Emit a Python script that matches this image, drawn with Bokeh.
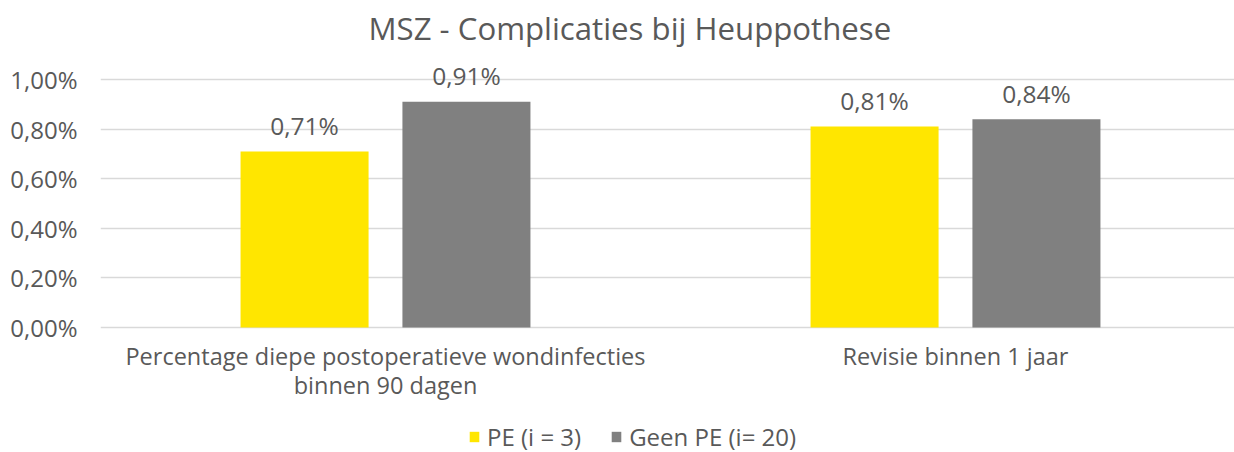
from bokeh.plotting import figure
from bokeh.models import Range1d, FixedTicker, ColumnDataSource, Legend, LegendItem
from bokeh.transform import dodge
from bokeh.core.properties import value
from bokeh.embed import file_html
from bokeh.resources import INLINE

# ---- data ----
categories = ["Percentage diepe postoperatieve wondinfecties\nbinnen 90 dagen",
              "Revisie binnen 1 jaar"]
pe_values = [0.71, 0.81]
geen_pe_values = [0.91, 0.84]
series_names = ["PE (i = 3)", "Geen PE (i= 20)"]
y_ticks = [0.0, 0.2, 0.4, 0.6, 0.8, 1.0]
y_tick_labels = ["0,00%", "0,20%", "0,40%", "0,60%", "0,80%", "1,00%"]
title_text = "MSZ - Complicaties  bij Heuppothese"


def pct(v):
    return f"{v:.2f}%".replace(".", ",")


x_pos = list(range(len(categories)))
source = ColumnDataSource(dict(
    x=x_pos,
    base=[0.0] * len(x_pos),
    cat=categories,
    pe=pe_values,
    geen=geen_pe_values,
    pe_lbl=[pct(v) for v in pe_values],
    geen_lbl=[pct(v) for v in geen_pe_values],
))

FONT = "Open Sans"
TXT = "#595959"
GRID = "#d9d9d9"
YELLOW = "#FFE600"
GRAY = "#808080"
BAR_W = 0.2246
OFF = 0.142

# layout (pixels)
W, H = 1234, 452
LEFT, TOP = 100, 52
PX_PER_UNIT_Y = 248.0       # pixels per 1.00 %
ZERO_FROM_BOTTOM = 125.0    # distance of the 0 line from the bottom edge
PX_PER_CAT = 570.0
FIRST_CAT_PX = 285.0        # first category centre from the frame left

y0 = -ZERO_FROM_BOTTOM / PX_PER_UNIT_Y
y1 = (H - TOP - ZERO_FROM_BOTTOM) / PX_PER_UNIT_Y
x0 = -FIRST_CAT_PX / PX_PER_CAT
x1 = x0 + (W - LEFT) / PX_PER_CAT

p = figure(width=W, height=H, output_backend="svg", toolbar_location=None,
           x_range=Range1d(x0, x1), y_range=Range1d(y0, y1),
           min_border_left=LEFT, min_border_right=0, min_border_top=TOP,
           min_border_bottom=0, background_fill_color="white",
           border_fill_color="white", title=title_text)

p.title.align = "left"
p.title.offset = 268
p.title.text_font = FONT
p.title.text_font_size = "31.2px"
p.title.text_font_style = "normal"
p.title.text_color = TXT
p.title.standoff = 7

p.outline_line_color = None
p.xgrid.grid_line_color = None
p.ygrid.ticker = FixedTicker(ticks=y_ticks)
p.ygrid.grid_line_color = GRID
p.ygrid.grid_line_width = 1.5
p.xaxis.visible = False

p.yaxis.ticker = FixedTicker(ticks=y_ticks)
p.yaxis.major_label_overrides = {t: l for t, l in zip(y_ticks, y_tick_labels)}
p.yaxis.major_label_text_font = FONT
p.yaxis.major_label_text_font_size = "24px"
p.yaxis.major_label_text_color = TXT
p.yaxis.major_label_standoff = 17
p.yaxis.major_tick_line_color = None
p.yaxis.minor_tick_line_color = None
p.yaxis.axis_line_color = None

r1 = p.vbar(x=dodge("x", -OFF, range=p.x_range), top="pe", width=BAR_W,
            source=source, fill_color=YELLOW, line_color=None)
r2 = p.vbar(x=dodge("x", OFF, range=p.x_range), top="geen", width=BAR_W,
            source=source, fill_color=GRAY, line_color=None)

for col, lbl, off in (("pe", "pe_lbl", -OFF), ("geen", "geen_lbl", OFF)):
    p.text(x=dodge("x", off, range=p.x_range), y=col, text=lbl, source=source,
           text_align="center", text_baseline="alphabetic", y_offset=-26,
           text_font=value(FONT), text_font_size="24.5px", text_color=TXT)

# category labels under the zero line
p.text(x="x", y="base", text="cat", source=source, text_align="center",
       text_baseline="top", y_offset=12, text_line_height=0.93,
       text_font=value(FONT), text_font_size="23.5px", text_color=TXT)

legend = Legend(items=[LegendItem(label=series_names[0], renderers=[r1]),
                       LegendItem(label=series_names[1], renderers=[r2])],
                orientation="horizontal", location=(368, -1),
                glyph_width=12, glyph_height=13, label_standoff=7, spacing=29,
                padding=0, margin=0, border_line_color=None,
                background_fill_alpha=0,
                label_text_font=FONT, label_text_font_size="24px",
                label_text_color=TXT)
p.add_layout(legend, "center")

open("out.html", "w").write(file_html(p, INLINE))
